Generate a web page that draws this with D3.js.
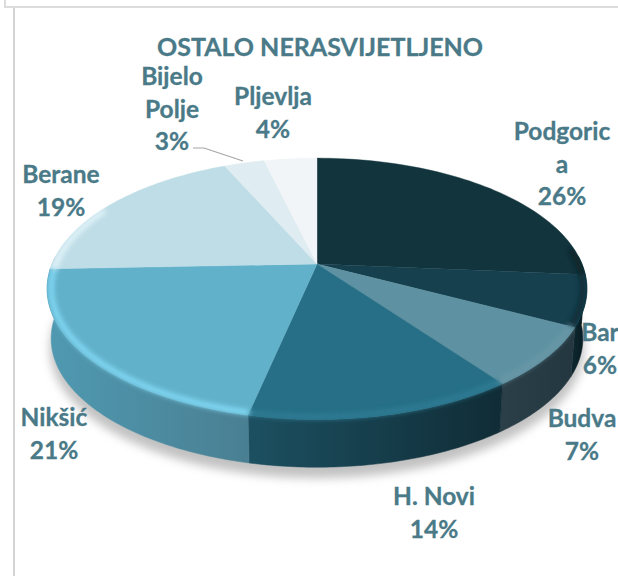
<!DOCTYPE html>
<html><head><meta charset="utf-8">
<script src="https://cdnjs.cloudflare.com/ajax/libs/d3/7.8.5/d3.min.js"></script>
<style>html,body{margin:0;padding:0;background:#fff}svg{display:block}</style></head>
<body><svg id="c" width="618" height="576"></svg>
<script>
const titleText = "OSTALO NERASVIJETLJENO";
const categories = ["Podgorica","Bar","Budva","H. Novi","Nikšić","Berane","Bijelo Polje","Pljevlja"];
const values = [26.3,6.3,7.3,13.5,21.0,18.9,2.9,3.8];
const labelLines = [["Podgoric","a"],["Bar"],["Budva"],["H. Novi"],["Nikšić"],["Berane"],["Bijelo","Polje"],["Pljevlja"]];
const topColors = ["#12343d","#16404e","#5e92a3","#266f86","#62b1cb","#bfdde7","#dfecf1","#f1f5f8"];
const sideLight = ["#0c252d","#0c252d","#2a3f48","#1c5061","#4f99b1","#8fc0d0","#b0cfda","#c8dbe2"];
const sideDark = ["#071a20","#071a20","#243740","#102c36","#4a7f92","#8fc0d0","#b0cfda","#c8dbe2"];
const rimColors = ["#0a2027","#0d2a34","#6a98a7","#2f7d95","#84dcf7","#e4f5fb","#eef6f9","#f8fbfc"];
const labelColor = "#4a7a88";

const labelAnchors = [[562,140],[600,341],[582,427],[434,505],[54,426],[61,183],[172,85],[273,105]];
const lineGap = 32.5;

const svg = d3.select("#c");
const defs = svg.append("defs");
defs.append("filter").attr("id","blurS").attr("x","-10%").attr("y","-10%").attr("width","120%").attr("height","130%")
  .append("feGaussianBlur").attr("stdDeviation",5);
defs.append("filter").attr("id","blurR").attr("filterUnits","userSpaceOnUse").attr("x",0).attr("y",0).attr("width",618).attr("height",576)
  .append("feGaussianBlur").attr("stdDeviation",2.4);

const persp = 0.19;
const sx = d3.scaleLinear().domain([-1,1]).range([317-265,317+265]);
const sy = d3.scaleLinear().domain([-1,1]).range([264-126,264+126]);
const depth = 50, shrink = 0.985;
function proj(a, r, low){
  const u = r*Math.sin(a), v = -r*Math.cos(a), d = 1 - persp*v;
  const s = low ? shrink : 1;
  const px = sx(0) + (sx(u/d)-sx(0))*s;
  const py = sy(0) + (sy(v/d)-sy(0))*s + (low ? depth : 0);
  return [px,py];
}
const pie = d3.pie().sort(null).startAngle(0).endAngle(2*Math.PI);
const arcs = pie(values);
const line = d3.line();
const steps = (a0,a1,n=60)=>d3.range(0,n+1).map(i=>a0+(a1-a0)*i/n);

// frame
svg.append("path").attr("d","M5 0V7H618").attr("fill","none").attr("stroke","#dcdcdc").attr("stroke-width",2);
svg.append("line").attr("x1",14).attr("x2",14).attr("y1",8).attr("y2",576).attr("stroke","#d4d4d4").attr("stroke-width",2);

// ground shadow
svg.append("path").attr("d",line(steps(Math.PI/2-0.3,3*Math.PI/2+0.3).map(a=>{const p=proj(a,1.005,true);return [p[0],p[1]+10];}))+"Z")
  .attr("fill","#a8a8a8").attr("opacity",.7).attr("filter","url(#blurS)");

// side walls
arcs.forEach((d,i)=>{
  const a0=Math.max(d.startAngle,Math.PI/2-0.06), a1=Math.min(d.endAngle,3*Math.PI/2+0.06);
  if(a1<=a0) return;
  const g=defs.append("linearGradient").attr("id","sg"+i).attr("gradientUnits","userSpaceOnUse");
  const p0=proj(a0,1,false),p1=proj(a1,1,false);
  g.attr("x1",p0[0]).attr("x2",p1[0]).attr("y1",0).attr("y2",0);
  g.append("stop").attr("offset",0).attr("stop-color",sideDark[i]);
  g.append("stop").attr("offset",1).attr("stop-color",sideLight[i]);
  const pts=steps(a0,a1);
  svg.append("path").attr("d",line(pts.map(a=>proj(a,1,false)).concat(pts.slice().reverse().map(a=>proj(a,1,true))))+"Z")
    .attr("fill","url(#sg"+i+")").attr("stroke","url(#sg"+i+")").attr("stroke-width",.5);
});

// top faces
arcs.forEach((d,i)=>{
  const pts=[proj(0,0,false)].concat(steps(d.startAngle,d.endAngle).map(a=>proj(a,1,false)));
  svg.append("path").attr("d",line(pts)+"Z").attr("fill",topColors[i]).attr("stroke",topColors[i]).attr("stroke-width",.4);
});

// soft bevel along the front rim, kept inside the pie's silhouette
const cp = defs.append("clipPath").attr("id","solid");
cp.append("path").attr("d",line(steps(0,2*Math.PI,180).map(a=>proj(a,1,false)))+"Z");
cp.append("path").attr("d",line(steps(Math.PI/2-0.06,3*Math.PI/2+0.06,120).map(a=>proj(a,1,false))
  .concat(steps(3*Math.PI/2+0.06,Math.PI/2-0.06,120).map(a=>proj(a,1,true))))+"Z");
const rim = svg.append("g").attr("clip-path","url(#solid)").append("g").attr("filter","url(#blurR)");
const rimFrom = 1.45, rimTo = 5.2;
arcs.forEach((d,i)=>{
  const a0=Math.max(d.startAngle,rimFrom), a1=Math.min(d.endAngle,rimTo);
  if(a1<=a0) return;
  rim.append("path").attr("d",line(steps(a0,a1).map(a=>proj(a,0.985,false))))
    .attr("fill","none").attr("stroke",rimColors[i]).attr("stroke-width",5).attr("stroke-linecap","butt");
});

// leader
svg.append("path").attr("d",line([[193,148],[204,148],[243,161]])).attr("fill","none").attr("stroke","#a6a6a6").attr("stroke-width",1.2);

// text
const font='Lato, "Open Sans", sans-serif';
svg.append("text").attr("x",320).attr("y",56).attr("text-anchor","middle").attr("font-family",font)
  .attr("font-weight",700).attr("font-size",25).attr("fill",labelColor).attr("stroke",labelColor).attr("stroke-width",.3).text(titleText);
labelLines.forEach((ls,i)=>{
  ls.concat([Math.round(values[i])+"%"]).forEach((t,j)=>{
    svg.append("text").attr("x",labelAnchors[i][0]).attr("y",labelAnchors[i][1]+j*lineGap)
      .attr("text-anchor","middle").attr("font-family",font).attr("font-weight",700)
      .attr("font-size",24.5).attr("fill",labelColor).attr("stroke",labelColor).attr("stroke-width",.3).text(t);
  });
});
</script></body></html>
